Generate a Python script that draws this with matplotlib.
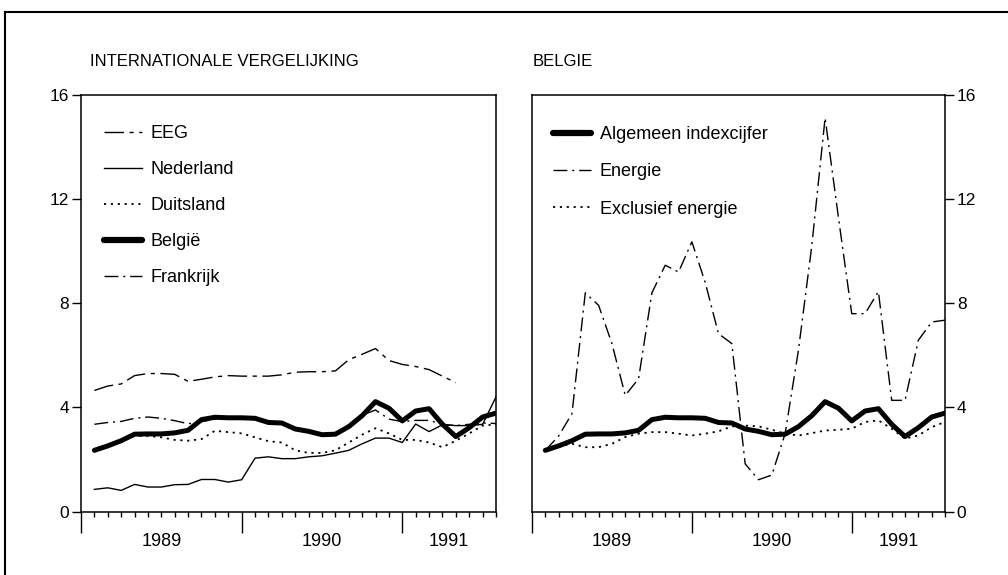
import matplotlib
matplotlib.use("Agg")
import matplotlib.pyplot as plt
import matplotlib.transforms as mtransforms
from matplotlib.lines import Line2D
import numpy as np

plt.rcParams['font.family'] = ['Liberation Sans', 'DejaVu Sans']

# one point per month, Jan 1989 .. Jul 1991
months = np.arange(1, 32)

belgie = [2.35, 2.52, 2.72, 2.97, 2.98, 2.98, 3.02, 3.12, 3.53, 3.62, 3.60,
          3.60, 3.58, 3.42, 3.40, 3.17, 3.08, 2.95, 2.97, 3.26, 3.68, 4.22,
          3.97, 3.48, 3.86, 3.95, 3.35, 2.88, 3.22, 3.63, 3.78]
eeg = [4.65, 4.82, 4.90, 5.22, 5.30, 5.30, 5.27, 5.00, 5.08, 5.17, 5.22,
       5.20, 5.20, 5.20, 5.25, 5.35, 5.37, 5.37, 5.40, 5.83, 6.04, 6.26,
       5.80, 5.65, 5.57, 5.45, 5.20, 4.95]
nederland = [0.85, 0.91, 0.81, 1.04, 0.94, 0.94, 1.03, 1.04, 1.23, 1.23, 1.13,
             1.22, 2.05, 2.10, 2.03, 2.03, 2.10, 2.14, 2.24, 2.35, 2.60, 2.82,
             2.82, 2.65, 3.36, 3.07, 3.33, 3.30, 3.30, 3.35, 4.40]
duitsland = [2.30, 2.50, 2.70, 2.90, 2.90, 2.85, 2.75, 2.72, 2.78, 3.10, 3.05,
             3.00, 2.85, 2.70, 2.65, 2.35, 2.25, 2.25, 2.35, 2.65, 2.95, 3.20,
             3.00, 2.75, 2.75, 2.65, 2.47, 2.72, 3.00, 3.30, 3.35]
frankrijk = [3.35, 3.42, 3.46, 3.58, 3.63, 3.58, 3.49, 3.37, 3.45, 3.55, 3.60,
             3.60, 3.55, 3.40, 3.40, 3.15, 3.05, 2.95, 3.00, 3.30, 3.70, 3.90,
             3.55, 3.45, 3.50, 3.50, 3.35, 3.30, 3.35, 3.40, 3.38]

energie = [2.35, 2.90, 3.76, 8.40, 7.92, 6.45, 4.46, 5.10, 8.40, 9.46, 9.20,
           10.36, 8.80, 6.83, 6.45, 1.83, 1.22, 1.40, 2.99, 6.20, 10.20, 15.12,
           11.30, 7.60, 7.60, 8.45, 4.27, 4.27, 6.58, 7.28, 7.35]
excl_energie = [2.35, 2.50, 2.60, 2.47, 2.47, 2.60, 2.86, 2.99, 3.05, 3.05, 2.99,
                2.92, 2.99, 3.08, 3.27, 3.30, 3.27, 3.14, 2.99, 2.92, 3.01, 3.11,
                3.14, 3.18, 3.44, 3.50, 3.18, 2.80, 2.92, 3.24, 3.44]

yticks = [0, 4, 8, 12, 16]
year_labels = ["1989", "1990", "1991"]
year_pos = [6, 18, 27.5]

fig = plt.figure(figsize=(10.08, 5.75), dpi=100)
ax1 = fig.add_axes([81 / 1008, 63.5 / 575, 415 / 1008, 416.5 / 575])
ax2 = fig.add_axes([532 / 1008, 63.5 / 575, 413 / 1008, 416.5 / 575])

DOT = (0, (1.2, 2.6))
DASH = (0, (14, 4, 3, 4))
DASHDOT = (0, (10, 3.5, 1.5, 3.5))


def style_axis(ax, right=False):
    ax.set_xlim(0, 31)
    ax.set_ylim(0, 16)
    ax.set_xticks([0, 12, 24])
    ax.set_xticks(months, minor=True)
    ax.tick_params(axis='x', which='major', length=15, width=1, labelbottom=False)
    ax.tick_params(axis='x', which='minor', length=3.6, width=1)
    ax.set_yticks(yticks)
    ax.tick_params(axis='y', length=6.5, width=1, labelsize=12.5, pad=2)
    if right:
        ax.yaxis.tick_right()
    for s in ax.spines.values():
        s.set_linewidth(1.1)
    trans = mtransforms.blended_transform_factory(ax.transData, ax.transAxes)
    for lab, pos in zip(year_labels, year_pos):
        ax.text(pos, -0.073, lab, transform=trans, ha='center', va='center',
                fontsize=13)


# left panel
ax1.plot(months[:len(eeg)], eeg, color='black', lw=1, linestyle=DASH, label='EEG')
ax1.plot(months, nederland, color='black', lw=1, label='Nederland')
ax1.plot(months, duitsland, color='black', lw=1.3, linestyle=DOT, label='Duitsland')
ax1.plot(months, belgie, color='black', lw=3.6, label='België', zorder=5,
         solid_capstyle='round')
ax1.plot(months, frankrijk, color='black', lw=1, linestyle=DASHDOT, label='Frankrijk')
style_axis(ax1)
leg1 = ax1.legend(loc='upper left', bbox_to_anchor=(0.055, 0.928), frameon=False,
                  fontsize=13, handlelength=2.1, handletextpad=0.5,
                  labelspacing=1.05, borderpad=0, borderaxespad=0)
leg1.get_lines()[3].set_linewidth(4.5)

# right panel
ax2.plot(months, belgie, color='black', lw=3.6, label='Algemeen indexcijfer',
         zorder=5, solid_capstyle='round')
ax2.plot(months, energie, color='black', lw=1, linestyle=DASHDOT, label='Energie')
ax2.plot(months, excl_energie, color='black', lw=1.3, linestyle=DOT,
         label='Exclusief energie')
style_axis(ax2, right=True)
leg2 = ax2.legend(loc='upper left', bbox_to_anchor=(0.05, 0.926), frameon=False,
                  fontsize=13, handlelength=2.1, handletextpad=0.5,
                  labelspacing=1.13, borderpad=0, borderaxespad=0)
leg2.get_lines()[0].set_linewidth(4.5)

fig.text(90 / 1008, 1 - 62 / 575, "INTERNATIONALE VERGELIJKING", fontsize=12,
         ha='left', va='center')
fig.text(533 / 1008, 1 - 62 / 575, "BELGIE", fontsize=12, ha='left', va='center')

# outer frame (top and left edge of the scanned page box)
fig.add_artist(Line2D([5 / 1008, 1], [1 - 12 / 575, 1 - 12 / 575],
                      transform=fig.transFigure, color='black', lw=1.5))
fig.add_artist(Line2D([5 / 1008, 5 / 1008], [0, 1 - 12 / 575],
                      transform=fig.transFigure, color='black', lw=1.5))

fig.savefig("out.png", dpi=100)
